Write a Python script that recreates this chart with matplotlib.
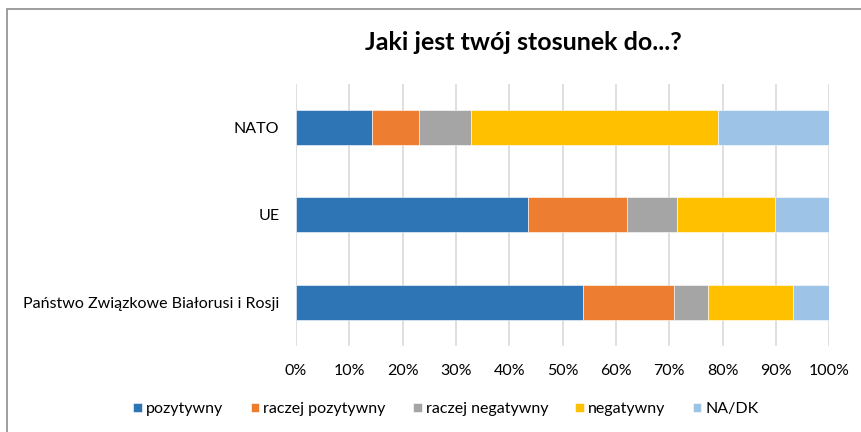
import matplotlib
matplotlib.use('Agg')
import matplotlib.pyplot as plt
from matplotlib.patches import Rectangle
from matplotlib.ticker import PercentFormatter

plt.rcParams['font.family'] = ['Lato', 'DejaVu Sans']

categories = ['NATO', 'UE', 'Państwo Związkowe Białorusi i Rosji']
series_names = ['pozytywny', 'raczej pozytywny', 'raczej negatywny', 'negatywny', 'NA/DK']
pozytywny = [14.3, 43.5, 53.9]
raczej_pozytywny = [8.8, 18.6, 17.0]
raczej_negatywny = [9.8, 9.4, 6.4]
negatywny = [46.2, 18.4, 15.8]
na_dk = [20.9, 10.1, 6.9]
colors = ['#2E75B6', '#ED7D31', '#A5A5A5', '#FFC000', '#9DC3E6']

fig = plt.figure(figsize=(8.61, 4.32), dpi=100)
ax = fig.add_axes([296 / 861, 1 - 346.3 / 432, (829.3 - 296) / 861, (346.3 - 83.6) / 432])

ypos = list(range(len(categories)))
left = [0.0] * len(categories)
for name, vals, col in zip(series_names, [pozytywny, raczej_pozytywny, raczej_negatywny, negatywny, na_dk], colors):
    ax.barh(ypos, vals, left=left, height=0.4, color=col, label=name,
            edgecolor='white', linewidth=0.4, zorder=3)
    left = [l + v for l, v in zip(left, vals)]

ax.set_xlim(0, 100)
ax.set_ylim(2.5, -0.5)
ax.set_yticks(ypos)
ax.set_yticklabels(categories, fontsize=11.5, color='#000000')
ax.set_xticks(range(0, 101, 10))
ax.xaxis.set_major_formatter(PercentFormatter(decimals=0))
ax.tick_params(axis='x', labelsize=11.5, length=0, pad=13, labelcolor='#000000')
ax.tick_params(axis='y', length=0, pad=12)
ax.grid(axis='x', color='#D9D9D9', linewidth=1.2, zorder=0)
for s in ax.spines.values():
    s.set_visible(False)

fig.text(523 / 861, 1 - 42 / 432, 'Jaki jest twój stosunek do...?', ha='center', va='center',
         fontsize=18, fontweight='bold')

handles, labels = ax.get_legend_handles_labels()
fig.legend(handles, labels, loc='center', bbox_to_anchor=(446 / 861, 1 - 409 / 432), ncol=5,
           frameon=False, fontsize=11.5, handlelength=0.55, handleheight=0.55,
           handletextpad=0.25, columnspacing=1.7)

fig.patches.append(Rectangle((7 / 861, -0.1), 1.2, 1 - 9 / 432 + 0.1, transform=fig.transFigure,
                             fill=False, edgecolor='#8C8C8C', linewidth=1.2))

fig.savefig('out.png', dpi=100)
